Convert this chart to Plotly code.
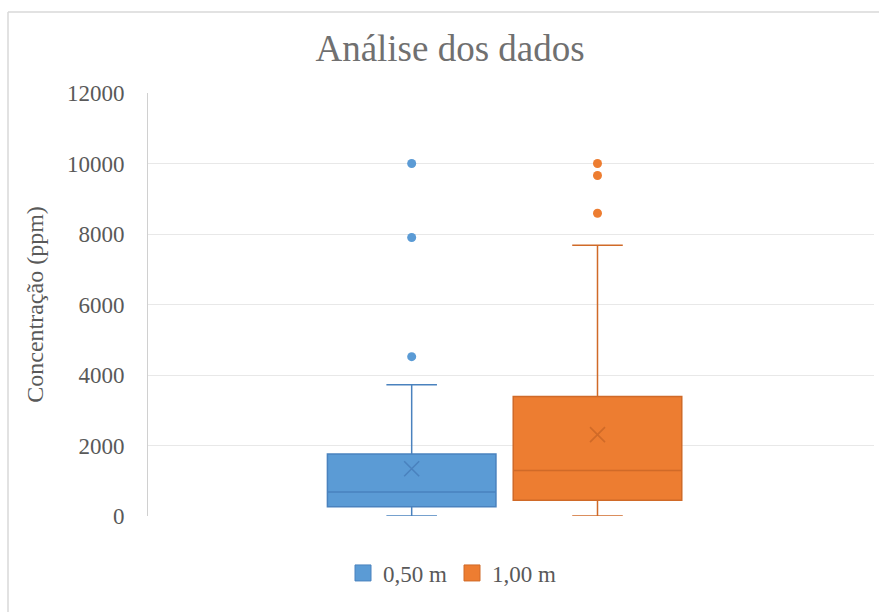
import plotly.graph_objects as go

# Box-and-whisker summary for the two sampling depths
series_names = ["0,50 m", "1,00 m"]
lower_fence = [0, 0]
q1_vals = [265, 450]
median_vals = [680, 1290]
q3_vals = [1760, 3390]
upper_fence = [3720, 7680]
mean_vals = [1340, 2310]
outliers_050 = [10000, 7900, 4520]
outliers_100 = [10000, 9660, 8590]
outliers = [outliers_050, outliers_100]

y_ticks = [0, 2000, 4000, 6000, 8000, 10000, 12000]

fill_colors = ["#5B9BD5", "#ED7D31"]
line_colors = ["#4A82BE", "#D06A28"]

FONT = "Times New Roman, Liberation Serif, serif"
W, H = 879, 612
L, R, T, B = 148, 5, 93, 96
PW, PH = W - L - R, H - T - B

fig = go.Figure()

for i, name in enumerate(series_names):
    fig.add_trace(go.Box(
        x=[i],
        q1=[q1_vals[i]], median=[median_vals[i]], q3=[q3_vals[i]],
        lowerfence=[lower_fence[i]], upperfence=[upper_fence[i]],
        width=0.907, whiskerwidth=0.3,
        fillcolor=fill_colors[i],
        line=dict(color=line_colors[i], width=1.5),
        boxpoints=False, showlegend=False, hoverinfo="skip",
    ))
    # points beyond the whiskers
    fig.add_trace(go.Scatter(
        x=[i] * len(outliers[i]), y=outliers[i], mode="markers",
        marker=dict(color=fill_colors[i], size=9, symbol="circle"),
        showlegend=False, hoverinfo="skip",
    ))
    # mean marker
    fig.add_trace(go.Scatter(
        x=[i], y=[mean_vals[i]], mode="markers",
        marker=dict(symbol="x-thin-open", size=15, color=line_colors[i],
                    line=dict(color=line_colors[i], width=1.6)),
        showlegend=False, hoverinfo="skip",
    ))
    # legend swatch
    fig.add_trace(go.Scatter(
        x=[None], y=[None], mode="markers", name=name,
        marker=dict(symbol="square", size=16, color=fill_colors[i],
                    line=dict(color=line_colors[i], width=1)),
    ))

# chart frame (left and top edges)
frame_top = (H - B - 12) / PH
frame_left = (8 - L) / PW
fig.add_shape(type="line", xref="paper", yref="paper",
              x0=frame_left, x1=frame_left, y0=frame_top, y1=-(B + 10) / PH,
              line=dict(color="#D9D9D9", width=1.5))
fig.add_shape(type="line", xref="paper", yref="paper",
              x0=frame_left, x1=(W + 10 - L) / PW, y0=frame_top, y1=frame_top,
              line=dict(color="#D9D9D9", width=1.5))

fig.update_layout(
    width=W, height=H,
    margin=dict(l=L, r=R, t=T, b=B),
    paper_bgcolor="white", plot_bgcolor="white",
    font=dict(family=FONT, color="#595959", size=23),
    title=dict(text="Análise dos dados", xref="container", x=0.512,
               xanchor="center", y=1 - 48 / H, yanchor="middle",
               font=dict(family=FONT, size=37, color="#707070")),
    showlegend=True,
    legend=dict(orientation="h", xref="container", yref="container",
                x=452 / W, xanchor="center", y=1 - 573 / H, yanchor="middle",
                font=dict(family=FONT, size=23, color="#595959"),
                itemsizing="trace"),
    xaxis=dict(range=[-1.419, 2.488], showticklabels=False, showgrid=False,
               zeroline=False, showline=False, fixedrange=True),
    yaxis=dict(range=[0, 12000], tickvals=y_ticks,
               ticktext=[str(v) for v in y_ticks],
               showgrid=True, gridcolor="#E8E8E8", gridwidth=1,
               zeroline=False, showline=True, linecolor="#D0D0D0", linewidth=1,
               ticks="", ticklabelstandoff=18,
               tickfont=dict(family=FONT, size=23, color="#595959"),
               title=dict(text="Concentração (ppm)", standoff=16,
                          font=dict(family=FONT, size=24, color="#595959"))),
)

fig.write_html("out.html")
